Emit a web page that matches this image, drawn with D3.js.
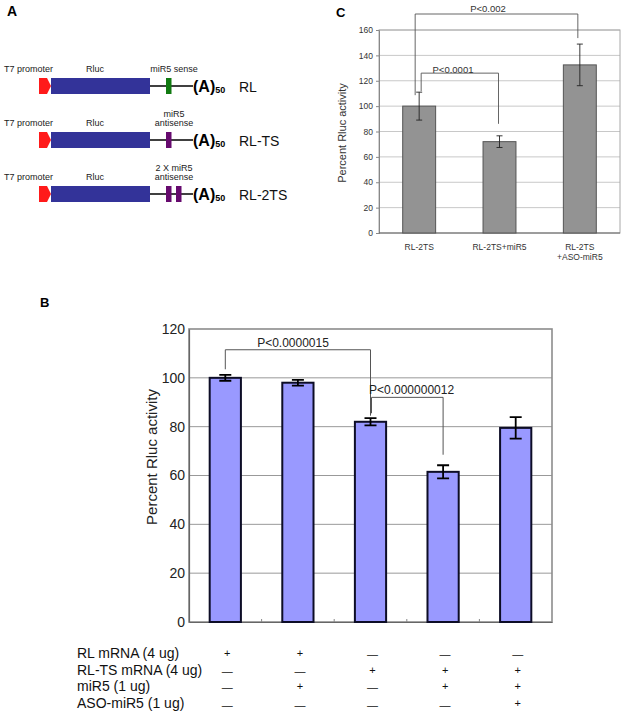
<!DOCTYPE html>
<html><head><meta charset="utf-8">
<script src="https://cdn.jsdelivr.net/npm/d3@7"></script>
<style>body{margin:0;background:#fff;}svg{display:block;font-family:Arial,"Liberation Sans",sans-serif;}</style>
</head><body>
<svg id="c" width="624" height="713"></svg>
<script>
// ---- Panel A data ----
const constructs = ["RL", "RL-TS", "RL-2TS"];
const siteLabels = [["miR5 sense"], ["miR5", "antisense"], ["2 X miR5", "antisense"]];
const siteCounts = [1, 1, 2];
const siteColors = ["#117a11", "#660a6e", "#660a6e"];

// ---- Panel B data ----
const bCategories = ["c1", "c2", "c3", "c4", "c5"];
const bValues = [100, 98, 82, 61.5, 79.5];
const bErrors = [1.2, 1.2, 1.5, 2.7, 4.4];
const bTicks = [0, 20, 40, 60, 80, 100, 120];
const tableRows = ["RL mRNA (4 ug)", "RL-TS mRNA (4 ug)", "miR5 (1 ug)", "ASO-miR5 (1 ug)"];
const tableSigns = [
  ["+", "+", "—", "—", "—"],
  ["—", "—", "+", "+", "+"],
  ["—", "+", "—", "+", "+"],
  ["—", "—", "—", "—", "+"]
];
const bPvals = ["P<0.0000015", "P<0.000000012"];

// ---- Panel C data ----
const cCategories = ["RL-2TS", "RL-2TS+miR5", "RL-2TS\n+ASO-miR5"];
const cValues = [100, 72, 132.5];
const cErrors = [11, 4.6, 16.4];
const cTicks = [0, 20, 40, 60, 80, 100, 120, 140, 160];
const cPvals = ["P<0.002", "P<0.0001"];

const svg = d3.select("#c");

// ================= Panel A =================
svg.append("text").attr("x", 7).attr("y", 16).attr("font-size", 14).attr("font-weight", "bold").text("A");
const rowY = d3.scalePoint().domain(constructs).range([86, 194]);
constructs.forEach((c, i) => {
  const y = rowY(c);
  const g = svg.append("g");
  g.append("text").attr("x", 4).attr("y", y - 14).attr("font-size", 9).attr("fill", "#222").text("T7 promoter");
  g.append("text").attr("x", 95).attr("y", y - 14).attr("font-size", 9).attr("fill", "#222").attr("text-anchor", "middle").text("Rluc");
  const lines = siteLabels[i];
  lines.forEach((t, k) => {
    g.append("text").attr("x", 174).attr("y", y - 14 - (lines.length - 1 - k) * 9.5)
      .attr("font-size", 9).attr("fill", "#222").attr("text-anchor", "middle").text(t);
  });
  g.append("path").attr("d", `M39,${y-8} L47,${y-8} L51,${y} L47,${y+8} L39,${y+8} Z`).attr("fill", "#ff1a1a");
  g.append("rect").attr("x", 51).attr("y", y - 8).attr("width", 99).attr("height", 16).attr("fill", "#333399");
  g.append("line").attr("x1", 150).attr("x2", 193).attr("y1", y).attr("y2", y).attr("stroke", "#000").attr("stroke-width", 1.3);
  for (let k = 0; k < siteCounts[i]; k++) {
    g.append("rect").attr("x", 166 + k * 10).attr("y", y - 8).attr("width", 5.5).attr("height", 16).attr("fill", siteColors[i]);
  }
  const t = g.append("text").attr("x", 193).attr("y", y + 6).attr("font-size", 16).attr("font-weight", "bold");
  t.append("tspan").text("(A)");
  t.append("tspan").attr("font-size", 9).attr("dy", 1).text("50");
  g.append("text").attr("x", 239).attr("y", y + 6).attr("font-size", 14).attr("fill", "#111").text(c);
});

// ================= Panel C =================
svg.append("text").attr("x", 336).attr("y", 17).attr("font-size", 13).attr("font-weight", "bold").text("C");
const cx = d3.scaleBand().domain(cCategories).range([379, 620]).paddingInner(0.59).paddingOuter(0.295);
const cy = d3.scaleLinear().domain([0, 160]).range([233, 30]);
const gC = svg.append("g");
gC.append("g").selectAll("line").data(cTicks.slice(1)).join("line")
  .attr("x1", 379).attr("x2", 620).attr("y1", d => cy(d)).attr("y2", d => cy(d)).attr("stroke", "#c8c8c8").attr("stroke-width", 1);
gC.append("rect").attr("x", 379).attr("y", cy(160)).attr("width", 241).attr("height", cy(0) - cy(160)).attr("fill", "none").attr("stroke", "#a8a8a8");
const cAxis = gC.append("g").attr("transform", "translate(379,0)").call(d3.axisLeft(cy).tickValues(cTicks).tickSize(3).tickPadding(3));
cAxis.select(".domain").attr("stroke", "#888");
cAxis.selectAll(".tick line").attr("stroke", "#888");
cAxis.selectAll("text").attr("font-size", 8.5).attr("fill", "#333").attr("font-family", "Arial, Liberation Sans, sans-serif");
gC.append("line").attr("x1", 379).attr("x2", 620).attr("y1", cy(0)).attr("y2", cy(0)).attr("stroke", "#666");
gC.selectAll(".cbar").data(cCategories).join("rect").attr("class", "cbar")
  .attr("x", d => cx(d)).attr("width", cx.bandwidth())
  .attr("y", (d, i) => cy(cValues[i])).attr("height", (d, i) => cy(0) - cy(cValues[i]))
  .attr("fill", "#939393").attr("stroke", "#555").attr("stroke-width", 1);
cCategories.forEach((c, i) => {
  const x = cx(c) + cx.bandwidth() / 2;
  const y1 = cy(cValues[i] + cErrors[i]), y2 = cy(cValues[i] - cErrors[i]);
  gC.append("path").attr("d", `M${x},${y1}V${y2}M${x-3},${y1}H${x+3}M${x-3},${y2}H${x+3}`).attr("stroke", "#222").attr("stroke-width", 0.9).attr("fill", "none");
  const lines = c.split("\n");
  lines.forEach((t, k) => {
    gC.append("text").attr("x", x).attr("y", 250 + k * 10).attr("text-anchor", "middle").attr("font-size", 8.5).attr("fill", "#333").text(t);
  });
});
gC.append("text").attr("transform", `translate(346,133) rotate(-90)`).attr("text-anchor", "middle").attr("font-size", 11).attr("fill", "#333").text("Percent Rluc activity");
// brackets C
const cc = i => cx(cCategories[i]) + cx.bandwidth() / 2;
gC.append("path").attr("d", `M${cc(0)-4},${cy(cValues[0]+cErrors[0])+3}V${cy(160)-16}H${cc(2)-2}V${cy(cValues[2]+cErrors[2])-6}`)
  .attr("fill", "none").attr("stroke", "#555").attr("stroke-width", 0.9);
gC.append("text").attr("x", 488).attr("y", 12).attr("text-anchor", "middle").attr("font-size", 9.5).attr("fill", "#333").text(cPvals[0]);
gC.append("path").attr("d", `M${cc(0)+2},${cy(cValues[0]+cErrors[0])-1}V${cy(126)}H${cc(1)-1}V${cy(cValues[1]+cErrors[1])-12}`)
  .attr("fill", "none").attr("stroke", "#555").attr("stroke-width", 0.9);
gC.append("text").attr("x", 453).attr("y", 73).attr("text-anchor", "middle").attr("font-size", 9.5).attr("fill", "#333").text(cPvals[1]);

// ================= Panel B =================
svg.append("text").attr("x", 40).attr("y", 307).attr("font-size", 13).attr("font-weight", "bold").text("B");
const bx = d3.scaleBand().domain(bCategories).range([189, 552]).paddingInner(0.57).paddingOuter(0.285);
const by = d3.scaleLinear().domain([0, 120]).range([622, 329]);
const gB = svg.append("g");
gB.append("g").selectAll("line").data(bTicks.slice(1, -1)).join("line")
  .attr("x1", 189).attr("x2", 552).attr("y1", d => by(d)).attr("y2", d => by(d)).attr("stroke", "#999").attr("stroke-width", 1);
gB.append("rect").attr("x", 189).attr("y", by(120)).attr("width", 363).attr("height", by(0) - by(120)).attr("fill", "none").attr("stroke", "#8c8c8c").attr("stroke-width", 1.6);
const bAxis = gB.append("g").attr("transform", "translate(189,0)").call(d3.axisLeft(by).tickValues(bTicks).tickSize(0).tickPadding(4));
bAxis.select(".domain").attr("stroke", "#666").attr("stroke-width", 1.2);
bAxis.selectAll("text").attr("font-size", 14).attr("fill", "#222").attr("font-family", "Arial, Liberation Sans, sans-serif");
const bAxisX = gB.append("g").attr("transform", "translate(0,622)").call(d3.axisBottom(bx).tickValues([]).tickSizeOuter(0));
bAxisX.select(".domain").attr("stroke", "#666").attr("stroke-width", 1.2);
// category boundary ticks (inward)
gB.append("g").selectAll("line").data(bCategories.slice(1)).join("line")
  .attr("x1", d => bx(d) - bx.step() * bx.paddingInner() / 2).attr("x2", d => bx(d) - bx.step() * bx.paddingInner() / 2)
  .attr("y1", 619).attr("y2", 622).attr("stroke", "#888");
gB.selectAll(".bbar").data(bCategories).join("rect").attr("class", "bbar")
  .attr("x", d => bx(d)).attr("width", bx.bandwidth())
  .attr("y", (d, i) => by(bValues[i])).attr("height", (d, i) => by(0) - by(bValues[i]))
  .attr("fill", "#9999ff").attr("stroke", "#0d0d26").attr("stroke-width", 2);
const bc = i => bx(bCategories[i]) + bx.bandwidth() / 2;
bCategories.forEach((c, i) => {
  const x = bc(i);
  const y1 = by(bValues[i] + bErrors[i]), y2 = by(bValues[i] - bErrors[i]);
  gB.append("path").attr("d", `M${x},${y1}V${y2}M${x-6},${y1}H${x+6}M${x-6},${y2}H${x+6}`).attr("stroke", "#000").attr("stroke-width", 1.8).attr("fill", "none");
});
gB.append("text").attr("transform", `translate(157,457) rotate(-90)`).attr("text-anchor", "middle").attr("font-size", 15).attr("fill", "#222").text("Percent Rluc activity");
// brackets B
gB.append("path").attr("d", `M${bc(0)},${by(103.5)}V${by(111.5)}H${bc(2)}V${by(84.5)}`)
  .attr("fill", "none").attr("stroke", "#555").attr("stroke-width", 1);
gB.append("text").attr("x", 293).attr("y", 347).attr("text-anchor", "middle").attr("font-size", 12).attr("fill", "#222").text(bPvals[0]);
gB.append("path").attr("d", `M${bc(2)+1},${by(85.5)}V${by(92)}H${bc(3)}V${by(68.5)}`)
  .attr("fill", "none").attr("stroke", "#555").attr("stroke-width", 1);
gB.append("text").attr("x", 369).attr("y", 394).attr("font-size", 12).attr("fill", "#222").text(bPvals[1]);

// table
const rowYs = d3.scalePoint().domain(tableRows).range([653, 703]);
tableRows.forEach((r, ri) => {
  const y = rowYs(r);
  svg.append("text").attr("x", 77).attr("y", y + 5).attr("font-size", 14).attr("fill", "#111").text(r);
  tableSigns[ri].forEach((s, ci) => {
    const x = bc(ci) + 2;
    if (s === "+") {
      svg.append("text").attr("x", x).attr("y", y + 4).attr("text-anchor", "middle").attr("font-size", 11).attr("fill", "#111").text("+");
    } else {
      svg.append("text").attr("x", x).attr("y", y + (ri === 3 ? 6 : 5)).attr("text-anchor", "middle").attr("font-size", 11).attr("fill", "#111").text("—");
    }
  });
});
</script>
</body></html>
